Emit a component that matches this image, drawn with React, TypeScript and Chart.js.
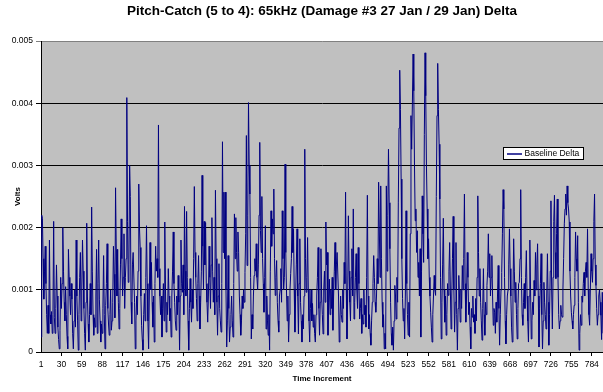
import React, { useEffect, useRef } from 'react';
import { Chart, registerables } from 'chart.js';

Chart.register(...registerables);

const chartTitle = 'Pitch-Catch (5 to 4): 65kHz (Damage #3 27 Jan / 29 Jan) Delta';
const seriesName = 'Baseline Delta';
const xAxisTitle = 'Time Increment';
const yAxisTitle = 'Volts';
const yTickValues = [0, 0.001, 0.002, 0.003, 0.004, 0.005];
const xTickLabels = [1, 30, 59, 88, 117, 146, 175, 204, 233, 262, 291, 320, 349, 378, 407, 436, 465, 494, 523, 552, 581, 610, 639, 668, 697, 726, 755, 784];

const baselineDelta = [
  0.00024,0.0022,0.00215,0.0015,0.00085,0.0013,0.0017,0.0011,0.0006,0.0003,
  0.00075,0.0003,0.0018,0.0006,0.00045,0.00065,0.0003,0.0006,0.0021,0.00055,
  0.0003,0.0007,0.0014,0.0009,0.0004,0.0002,0.00005,0.00035,0.0012,0.0007,
  0.0011,0.002,0.0013,0.0008,0.0005,0.00105,0.0006,0.00025,0.00005,0.00165,
  0.0012,0.0009,0.0006,0.0011,0.00085,0.0003,0.00005,0.0005,0.001,0.0004,
  0.0018,0.0009,0.0005,0.00003,0.0006,0.0012,0.0016,0.0005,0.001,0.0018,
  0.0013,0.0007,0.0003,0.00003,0.0008,0.00207,0.0009,0.00045,0.00016,0.0006,
  0.0011,0.0006,0.00233,0.0013,0.0006,0.00027,0.00055,0.0004,0.0009,0.00165,
  0.0003,0.0011,0.0018,0.00085,0.0005,0.00016,0.00045,0.0003,0.0007,0.00155,
  0.0006,0.00005,0.00075,0.0011,0.00174,0.0007,0.00045,0.00027,0.0006,0.001,
  0.00035,0.0005,0.0008,0.0017,0.00125,0.00055,0.00264,0.00165,0.0009,0.00165,
  0.0008,0.00037,0.0007,0.0014,0.00214,0.0015,0.0009,0.0012,0.0019,0.0007,
  0.0012,0.0015,0.00409,0.0021,0.00112,0.0014,0.003,0.0025,0.0008,0.00045,
  0.0014,0.0016,0.0016,0.0008,0.00005,0.0005,0.0009,0.0006,0.0013,0.0027,
  0.002,0.00168,0.0009,0.00043,0.0002,0.00003,0.0006,0.00094,0.0005,0.0012,
  0.00203,0.0011,0.0005,0.00005,0.0009,0.00176,0.001,0.00144,0.0008,0.0004,
  0.0009,0.00016,0.0011,0.0017,0.0013,0.0015,0.0012,0.00365,0.00134,0.0009,
  0.0006,0.0009,0.00024,0.0007,0.0011,0.0005,0.00209,0.001,0.00032,0.0008,
  0.0006,0.00134,0.0009,0.0005,0.0007,0.00024,0.0009,0.0013,0.00193,0.0011,
  0.0008,0.0005,0.00035,0.0009,0.0006,0.00123,0.0008,0.00003,0.0009,0.0018,
  0.0011,0.00096,0.0014,0.0006,0.00234,0.0013,0.0009,0.00226,0.0012,0.0005,
  0.00003,0.0007,0.00118,0.0008,0.00048,0.001,0.0007,0.0015,0.00266,0.0016,
  0.0012,0.00086,0.0005,0.0011,0.00155,0.0009,0.00037,0.0008,0.0013,0.00284,
  0.0017,0.001,0.0021,0.0014,0.00208,0.0011,0.0008,0.00048,0.0009,0.0017,
  0.0012,0.0007,0.0014,0.00216,0.0013,0.0008,0.0012,0.0006,0.0026,0.0015,
  0.0008,0.00027,0.0009,0.00142,0.0007,0.0005,0.00032,0.0011,0.00338,0.0016,
  0.00257,0.0015,0.00257,0.001,0.00008,0.0005,0.00155,0.0007,0.00016,0.0004,
  0.0006,0.0009,0.0005,0.00024,0.0011,0.00222,0.0015,0.00216,0.0016,0.0013,
  0.00193,0.0016,0.0009,0.0006,0.00027,0.0005,0.0009,0.0007,0.001,0.0008,
  0.00128,0.0019,0.00348,0.00139,0.0022,0.00401,0.003,0.00254,0.0012,0.00021,
  0.0006,0.00037,0.0009,0.00123,0.0015,0.0013,0.00174,0.0012,0.001,0.0014,
  0.0022,0.00337,0.00195,0.0016,0.0025,0.0015,0.0011,0.00064,0.0012,0.00203,
  0.00037,0.0009,0.0005,0.00027,0.0006,0.00003,0.0013,0.00227,0.0017,0.00214,
  0.0019,0.00262,0.0015,0.00091,0.0012,0.00147,0.0008,0.0005,0.00032,0.0009,
  0.001,0.00134,0.0008,0.00227,0.0015,0.001,0.0012,0.00302,0.0016,0.001,
  0.0005,0.0009,0.00016,0.0006,0.001,0.00126,0.0015,0.00234,0.0016,0.00198,
  0.001,0.00032,0.0009,0.0014,0.00198,0.0009,0.00029,0.0011,0.00182,0.0008,
  0.0005,0.00016,0.0006,0.00037,0.0009,0.00326,0.0015,0.00096,0.0012,0.00184,
  0.001,0.0005,0.00016,0.0007,0.001,0.0005,0.00078,0.0004,0.0006,0.0003,
  0.00016,0.0006,0.0009,0.0012,0.00168,0.0007,0.00027,0.0008,0.00166,0.0009,
  0.0006,0.00029,0.001,0.0013,0.0008,0.00209,0.0014,0.0016,0.00027,0.0008,
  0.00117,0.0006,0.001,0.0007,0.0012,0.00035,0.0009,0.0013,0.00176,0.001,
  0.0014,0.0016,0.0016,0.0009,0.00016,0.0005,0.0009,0.0006,0.00048,0.001,
  0.0007,0.00144,0.0011,0.00257,0.001,0.00021,0.0009,0.00219,0.0013,0.0008,
  0.0005,0.0012,0.00166,0.0009,0.0023,0.00053,0.0008,0.0012,0.00158,0.001,
  0.0007,0.00168,0.0011,0.00053,0.0007,0.00086,0.0003,0.0006,0.00045,0.001,
  0.0006,0.00075,0.0004,0.0012,0.00252,0.0009,0.00037,0.0006,0.0003,0.00011,
  0.0005,0.0008,0.0011,0.00155,0.0012,0.0008,0.00064,0.0009,0.0015,0.0011,
  0.00273,0.002,0.0012,0.00267,0.0015,0.0008,0.0004,0.0006,0.00005,0.0003,
  0.00005,0.00267,0.0013,0.0022,0.00326,0.0024,0.00166,0.0008,0.0003,0.00011,
  0.0004,0.00003,0.0005,0.00107,0.0009,0.00053,0.0012,0.0008,0.00241,0.0036,
  0.00453,0.0039,0.00278,0.0015,0.00086,0.0005,0.0007,0.00021,0.0009,0.00227,
  0.0011,0.0006,0.00027,0.0008,0.00024,0.0019,0.0038,0.00326,0.004,0.00479,
  0.0042,0.003,0.00211,0.0023,0.0016,0.00195,0.0012,0.00144,0.0009,0.00166,
  0.00024,0.0013,0.00251,0.0019,0.00144,0.0035,0.00481,0.00412,0.003,0.0023,
  0.0015,0.00182,0.0012,0.0009,0.00064,0.0004,0.00016,0.0006,0.0009,0.00123,
  0.001,0.00091,0.0025,0.0038,0.00464,0.0039,0.00334,0.00246,0.0012,0.00021,
  0.0008,0.0014,0.00215,0.001,0.00048,0.0009,0.00027,0.0006,0.0011,0.00091,
  0.0013,0.00176,0.001,0.00037,0.0009,0.0015,0.00218,0.001,0.00032,0.0008,
  0.00176,0.0006,0.00003,0.0007,0.00123,0.0009,0.00048,0.001,0.0007,0.00139,
  0.001,0.0015,0.00254,0.0011,0.00048,0.0009,0.0016,0.0012,0.0006,0.0008,
  0.0004,0.00005,0.0007,0.00056,0.0009,0.00048,0.0006,0.0003,0.00086,0.0005,
  0.0012,0.00251,0.0016,0.0009,0.00134,0.0008,0.0005,0.00019,0.0007,0.00134,
  0.0006,0.00027,0.0008,0.0006,0.00107,0.0013,0.0019,0.0012,0.00158,0.0009,
  0.0012,0.00155,0.0009,0.00043,0.0007,0.00064,0.0003,0.0008,0.00048,0.0009,
  0.00139,0.0007,0.00011,0.0006,0.001,0.00128,0.0019,0.00261,0.0023,0.0012,
  0.0005,0.00013,0.0006,0.0009,0.001,0.0014,0.00198,0.00134,0.0009,0.0004,
  0.00016,0.0009,0.00182,0.0013,0.0008,0.00112,0.0006,0.00021,0.0007,0.0011,
  0.00112,0.0015,0.00261,0.0012,0.0006,0.00043,0.0008,0.0011,0.0007,0.0012,
  0.00163,0.0009,0.0005,0.00016,0.0009,0.0018,0.001,0.00021,0.0005,0.0008,
  0.0006,0.00115,0.0009,0.0016,0.001,0.0014,0.00174,0.0009,0.00008,0.0007,
  0.0011,0.00158,0.0006,0.00005,0.0005,0.00112,0.0008,0.0006,0.00037,0.0009,
  0.00158,0.0008,0.00011,0.0006,0.0013,0.00243,0.001,0.00037,0.0012,0.0021,
  0.00252,0.0016,0.00118,0.0019,0.00246,0.0012,0.0006,0.00037,0.0005,0.00075,
  0.0006,0.00056,0.001,0.0015,0.00206,0.0023,0.00254,0.0022,0.00267,0.0024,
  0.0023,0.00209,0.0013,0.0009,0.00064,0.0005,0.00037,0.0006,0.00075,0.0012,
  0.00193,0.0015,0.0013,0.00187,0.0008,0.00003,0.0003,0.0006,0.00043,0.0009,
  0.0008,0.0011,0.00128,0.0009,0.0013,0.00144,0.0012,0.00198,0.001,0.0006,
  0.00043,0.001,0.00158,0.0013,0.00112,0.0015,0.0021,0.00254,0.0014,0.00107,
  0.0007,0.00043,0.0006,0.0009,0.001,0.0008,0.00059,0.0002,0.00096,0.0003,
];

const timeIncrements = baselineDelta.map((_, i) => String(i + 1));

const FONT = '"Liberation Sans", Arial, Helvetica, sans-serif';
const LINE_COLOR = '#000080';
const PLOT_BG = '#C0C0C0';

const plotBackground = {
  id: 'plotBackground',
  beforeDraw(chart: any) {
    const { ctx, chartArea: a } = chart;
    ctx.save();
    ctx.fillStyle = PLOT_BG;
    ctx.fillRect(a.left, a.top, a.right - a.left, a.bottom - a.top);
    ctx.restore();
  },
};

const legendBox = {
  id: 'legendBox',
  afterDraw(chart: any) {
    const { ctx } = chart;
    const ds = chart.data.datasets[0];
    const x = 503.5, y = 147.5, w = 80, h = 12;
    ctx.save();
    ctx.fillStyle = '#FFFFFF';
    ctx.fillRect(x, y, w, h);
    ctx.strokeStyle = '#000000';
    ctx.lineWidth = 1;
    ctx.strokeRect(x, y, w, h);
    ctx.strokeStyle = ds.borderColor;
    ctx.lineWidth = 1.5;
    ctx.beginPath();
    ctx.moveTo(507, y + 6.5);
    ctx.lineTo(522, y + 6.5);
    ctx.stroke();
    ctx.fillStyle = '#000000';
    ctx.font = `8.5px ${FONT}`;
    ctx.textBaseline = 'middle';
    ctx.textAlign = 'left';
    ctx.fillText(ds.label, 524.5, y + 6.5);
    ctx.restore();
  },
};

export default function App() {
  const canvasRef = useRef<HTMLCanvasElement | null>(null);

  useEffect(() => {
    const canvas = canvasRef.current;
    if (!canvas) return;
    const labelSet = new Set(xTickLabels.map(String));
    const chart = new Chart(canvas, {
      type: 'line',
      data: {
        labels: timeIncrements,
        datasets: [
          {
            label: seriesName,
            data: baselineDelta,
            borderColor: LINE_COLOR,
            backgroundColor: LINE_COLOR,
            borderWidth: 1,
            pointRadius: 0,
            pointHoverRadius: 0,
            pointHitRadius: 0,
            tension: 0,
            fill: false,
          },
        ],
      },
      options: {
        animation: false,
        responsive: false,
        devicePixelRatio: 1,
        events: [],
        layout: { padding: 0, autoPadding: false },
        plugins: {
          legend: { display: false },
          tooltip: { enabled: false },
          title: {
            display: true,
            text: chartTitle,
            fullSize: false,
            color: '#000000',
            font: { family: FONT, size: 13.5, weight: 'bold', lineHeight: 1.2 },
            padding: { top: 2.9, bottom: 21.9 },
          },
        },
        scales: {
          x: {
            type: 'category',
            offset: false,
            grid: {
              display: true,
              drawOnChartArea: false,
              offset: true,
              tickLength: 4,
              color: (ctx: any) => (ctx.index % 29 === 0 ? '#000000' : 'rgba(0,0,0,0)'),
            },
            border: { display: true, color: '#000000', width: 1 },
            ticks: {
              autoSkip: false,
              maxRotation: 0,
              minRotation: 0,
              padding: 4,
              color: '#000000',
              font: { family: FONT, size: 8.5 },
              callback: (_v: any, i: number) => (labelSet.has(timeIncrements[i]) ? timeIncrements[i] : ''),
            },
            title: {
              display: true,
              text: xAxisTitle,
              color: '#000000',
              font: { family: FONT, size: 8, weight: 'bold', lineHeight: 1.2 },
              padding: { top: 0, bottom: 8.2 },
            },
            afterFit: (s: any) => {
              s.height = 40;
              s.paddingLeft = 0;
              s.paddingRight = 0;
            },
          },
          y: {
            min: 0,
            max: 0.005,
            afterBuildTicks: (s: any) => {
              s.ticks = yTickValues.map((v) => ({ value: v }));
            },
            grid: {
              color: (ctx: any) => (ctx.tick && ctx.tick.value === 0.005 ? '#808080' : '#000000'),
              tickLength: 5,
            },
            border: { display: true, color: '#000000', width: 1 },
            ticks: {
              padding: 3,
              color: '#000000',
              font: { family: FONT, size: 8.5 },
              callback: (v: any) => (Number(v) === 0 ? '0' : Number(v).toFixed(3)),
            },
            title: {
              display: true,
              text: yAxisTitle,
              color: '#000000',
              font: { family: FONT, size: 8, weight: 'bold', lineHeight: 1.2 },
              padding: { top: 13.2, bottom: 0 },
            },
            afterFit: (s: any) => {
              s.width = 41;
              s.paddingTop = 0;
              s.paddingBottom = 0;
            },
          },
        },
      },
      plugins: [plotBackground, legendBox],
    } as any);
    return () => chart.destroy();
  }, []);

  return (
    <div style={{ position: 'absolute', left: 0, top: 0, width: 603, height: 392, background: '#FFFFFF' }}>
      <canvas ref={canvasRef} width={603} height={392} style={{ display: 'block', width: 603, height: 392 }} />
    </div>
  );
}
